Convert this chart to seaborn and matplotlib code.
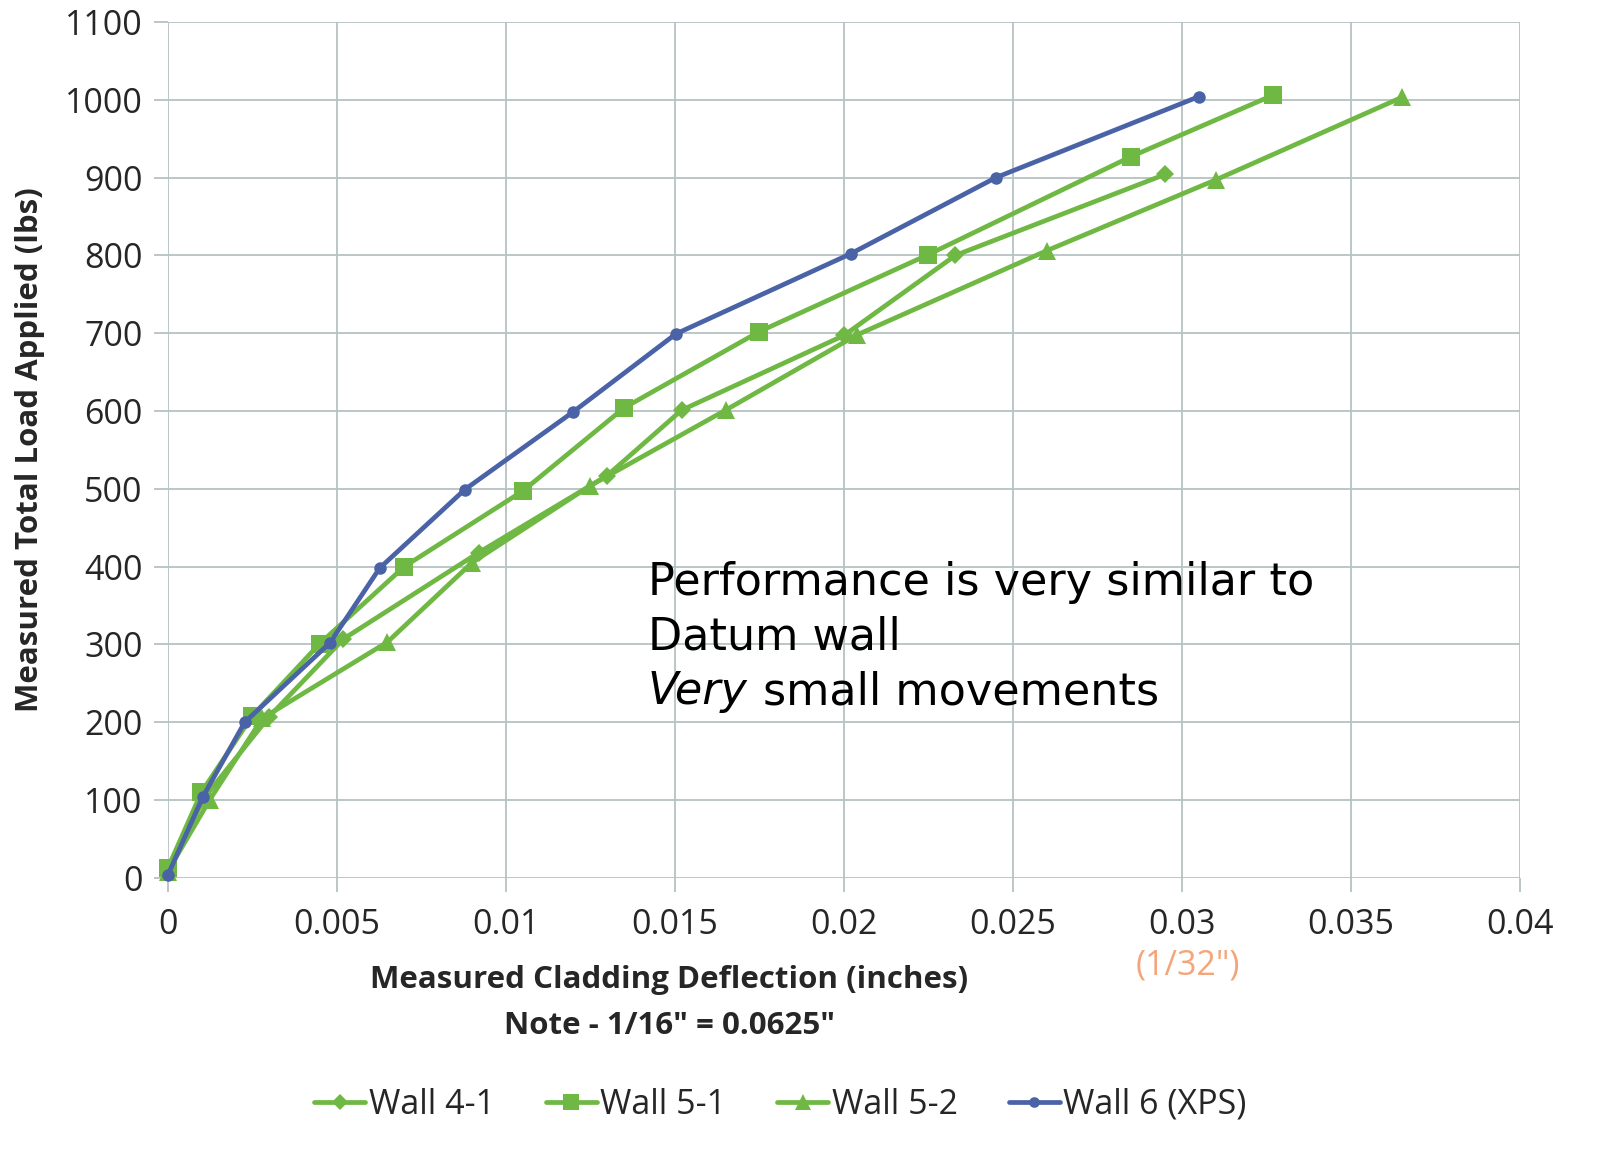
import numpy as np
import pandas as pd
import seaborn as sns
from matplotlib import pyplot as plt
from matplotlib.ticker import MultipleLocator

# deflection (inches) / load (lbs)
wall41_x = [0.0, 0.0011, 0.003, 0.0052, 0.0092, 0.013, 0.0152, 0.020, 0.0233, 0.0295]
wall41_y = [10, 104, 207, 307, 418, 517, 601, 697, 800, 904]

wall51_x = [0.0, 0.001, 0.0025, 0.0045, 0.007, 0.0105, 0.0135, 0.0175, 0.0225, 0.0285, 0.0327]
wall51_y = [12, 110, 208, 301, 400, 497, 604, 702, 801, 927, 1006]

wall52_x = [0.0, 0.00124, 0.0028, 0.0065, 0.009, 0.0125, 0.0165, 0.0204, 0.026, 0.031, 0.0365]
wall52_y = [8, 100, 205, 303, 405, 504, 601, 698, 806, 897, 1003]

wall6_x = [0.0, 0.00104, 0.00228, 0.0048, 0.00627, 0.00879, 0.012, 0.01503, 0.0202, 0.0245, 0.0305]
wall6_y = [3, 104, 200, 302, 398, 499, 599, 699, 802, 900, 1004]

series_names = ["Wall 4-1", "Wall 5-1", "Wall 5-2", "Wall 6 (XPS)"]
x_ticklabels = ["0", "0.005", "0.01", "0.015", "0.02", "0.025", "0.03", "0.035", "0.04"]

frames = []
for name, xs, ys in zip(series_names,
                        [wall41_x, wall51_x, wall52_x, wall6_x],
                        [wall41_y, wall51_y, wall52_y, wall6_y]):
    frames.append(pd.DataFrame({"deflection": xs, "load": ys, "wall": name}))
df = pd.concat(frames, ignore_index=True)

sns.set_theme(style="white")
plt.rcParams["font.family"] = ["Open Sans", "DejaVu Sans"]

green = "#6fb843"
blue = "#4a62a6"
grid_col = "#b7c2c2"
txt_col = "#262626"
palette = {"Wall 4-1": green, "Wall 5-1": green, "Wall 5-2": green, "Wall 6 (XPS)": blue}
markers = {"Wall 4-1": "D", "Wall 5-1": "s", "Wall 5-2": "^", "Wall 6 (XPS)": "o"}
sizes = {"Wall 4-1": 9, "Wall 5-1": 13, "Wall 5-2": 13, "Wall 6 (XPS)": 9}

fig = plt.figure(figsize=(16.12, 11.52), dpi=100)
ax = fig.add_axes([0.104, 0.238, 0.839, 0.743])

for name in series_names:
    sub = df[df["wall"] == name]
    sns.lineplot(data=sub, x="deflection", y="load", ax=ax, color=palette[name],
                 marker=markers[name], markersize=sizes[name], markeredgewidth=0,
                 linewidth=3.4, label=name, sort=False, estimator=None)
for ln in ax.lines:
    ln.set_clip_on(False)

ax.set_xlim(0, 0.04)
ax.set_ylim(0, 1100)
ax.yaxis.set_major_locator(MultipleLocator(100))
ax.set_xticks(np.arange(0, 0.0401, 0.005))
ax.set_xticklabels(x_ticklabels)
ax.grid(True, color=grid_col, linewidth=1.3)
ax.set_axisbelow(True)
for s in ax.spines.values():
    s.set_visible(False)
ax.tick_params(axis="both", labelsize=24.5, labelcolor=txt_col, length=10, width=1.3,
               color=grid_col, bottom=True, left=True)
ax.tick_params(axis="y", pad=8)
ax.tick_params(axis="x", pad=12)

ax.set_xlabel("Measured Cladding Deflection (inches)", fontsize=22.5, fontweight="bold",
              color=txt_col)
ax.xaxis.set_label_coords(0.371, -0.119)
ax.xaxis.label.set_va("center")
ax.set_ylabel("Measured Total Load Applied (lbs)", fontsize=22.5, fontweight="bold",
              color=txt_col)
ax.yaxis.set_label_coords(-0.102, 0.5)
ax.yaxis.label.set_va("center")

ax.text(0.371, -0.173, 'Note - 1/16" = 0.0625"', transform=ax.transAxes, fontsize=22.5,
        fontweight="bold", color=txt_col, ha="center", va="center")
ax.text(0.754, -0.102, '(1/32")', transform=ax.transAxes, fontsize=24.5,
        color="#f4a57a", ha="center", va="center")

note_kw = dict(fontsize=32, family="DejaVu Sans", color="black", va="center", ha="left")
ax.text(0.0142, 380, "Performance is very similar to", **note_kw)
ax.text(0.0142, 310, "Datum wall", **note_kw)
ax.text(0.0142, 239, "Very", style="italic", **note_kw)
ax.text(0.0176, 239, "small movements", **note_kw)

ax.legend(loc="center", bbox_to_anchor=(0.453, -0.265), ncol=4, frameon=False,
          fontsize=24.5, handlelength=1.5, handletextpad=0.1, columnspacing=1.5,
          markerscale=0.85)

fig.savefig("out.png", dpi=100)
